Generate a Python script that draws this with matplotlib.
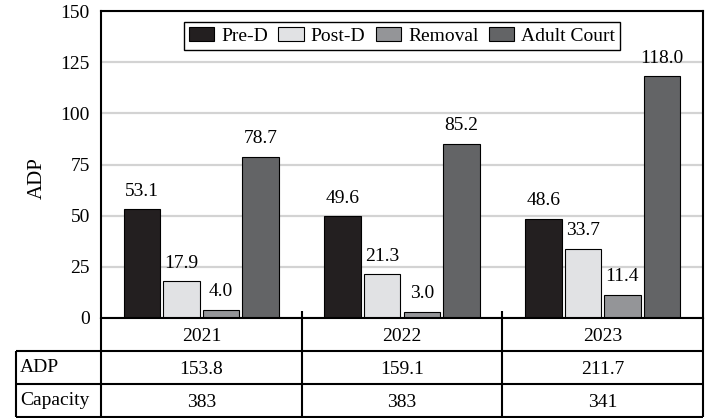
import numpy as np
import matplotlib.pyplot as plt

# chart data
years = ["2021", "2022", "2023"]
series = ["Pre-D", "Post-D", "Removal", "Adult Court"]
pre_d = [53.1, 49.6, 48.6]
post_d = [17.9, 21.3, 33.7]
removal = [4.0, 3.0, 11.4]
adult_court = [78.7, 85.2, 118.0]

# table below the bars
row_labels = ["ADP", "Capacity"]
adp_total = ["153.8", "159.1", "211.7"]
capacity = ["383", "383", "341"]

colors = ["#231f20", "#e1e2e4", "#949598", "#636466"]

plt.rcParams["font.family"] = ["Liberation Serif", "DejaVu Serif"]
plt.rcParams["font.size"] = 14

fig = plt.figure(figsize=(7.11, 4.18), dpi=100)
ax = fig.add_axes([101 / 711, 100 / 418, 602 / 711, 307 / 418])
tax = fig.add_axes([16 / 711, 1 / 418, 687 / 711, 99 / 418])

x = np.arange(len(years))
slot = 0.197  # spacing between bars in a group
width = 0.182
for i, vals in enumerate([pre_d, post_d, removal, adult_court]):
    bars = ax.bar(x + (i - 1.5) * slot, vals, width, color=colors[i],
                  edgecolor="black", linewidth=0.8, label=series[i], zorder=2)
    ax.bar_label(bars, fmt="%.1f", padding=7)

ax.set_xlim(-0.5, 2.5)
ax.set_ylim(0, 150)
ax.set_yticks(range(0, 151, 25))
ax.set_xticks([])
ax.tick_params(axis="y", length=0, pad=8)
ax.yaxis.grid(True, color="#d3d3d3", linewidth=1.6)
ax.set_axisbelow(True)
for sp in ax.spines.values():
    sp.set_linewidth(1.5)
ax.set_ylabel("ADP", fontsize=15)
ax.yaxis.set_label_coords(-0.09, 0.456)

leg = ax.legend(loc="upper center", ncol=4, fancybox=False, edgecolor="black",
                framealpha=1, handlelength=1.3, handleheight=0.8,
                handletextpad=0.35, columnspacing=0.55, borderpad=0.25,
                borderaxespad=0.55)
leg.get_frame().set_linewidth(1.0)

# table drawn in its own axes, sharing the category positions
xl = -0.5 - 85 / 200.67
tax.set_xlim(xl, 2.5)
tax.set_ylim(0, 3)
tax.axis("off")
lw = 1.5
tax.hlines([0, 1, 2], xl, 2.5, colors="black", lw=lw, clip_on=False)
tax.vlines([xl], 0, 2, colors="black", lw=lw, clip_on=False)
tax.vlines([-0.5, 2.5], 0, 3, colors="black", lw=lw, clip_on=False)
tax.vlines([0.5, 1.5], 0, 3.21, colors="black", lw=lw, clip_on=False)

for i in range(len(years)):
    tax.text(x[i], 2.45, years[i], ha="center", va="center")
    tax.text(x[i], 1.45, adp_total[i], ha="center", va="center")
    tax.text(x[i], 0.45, capacity[i], ha="center", va="center")
tax.text(xl + 0.02, 1.5, row_labels[0], ha="left", va="center")
tax.text(xl + 0.02, 0.5, row_labels[1], ha="left", va="center")

fig.savefig("out.png", dpi=100)
